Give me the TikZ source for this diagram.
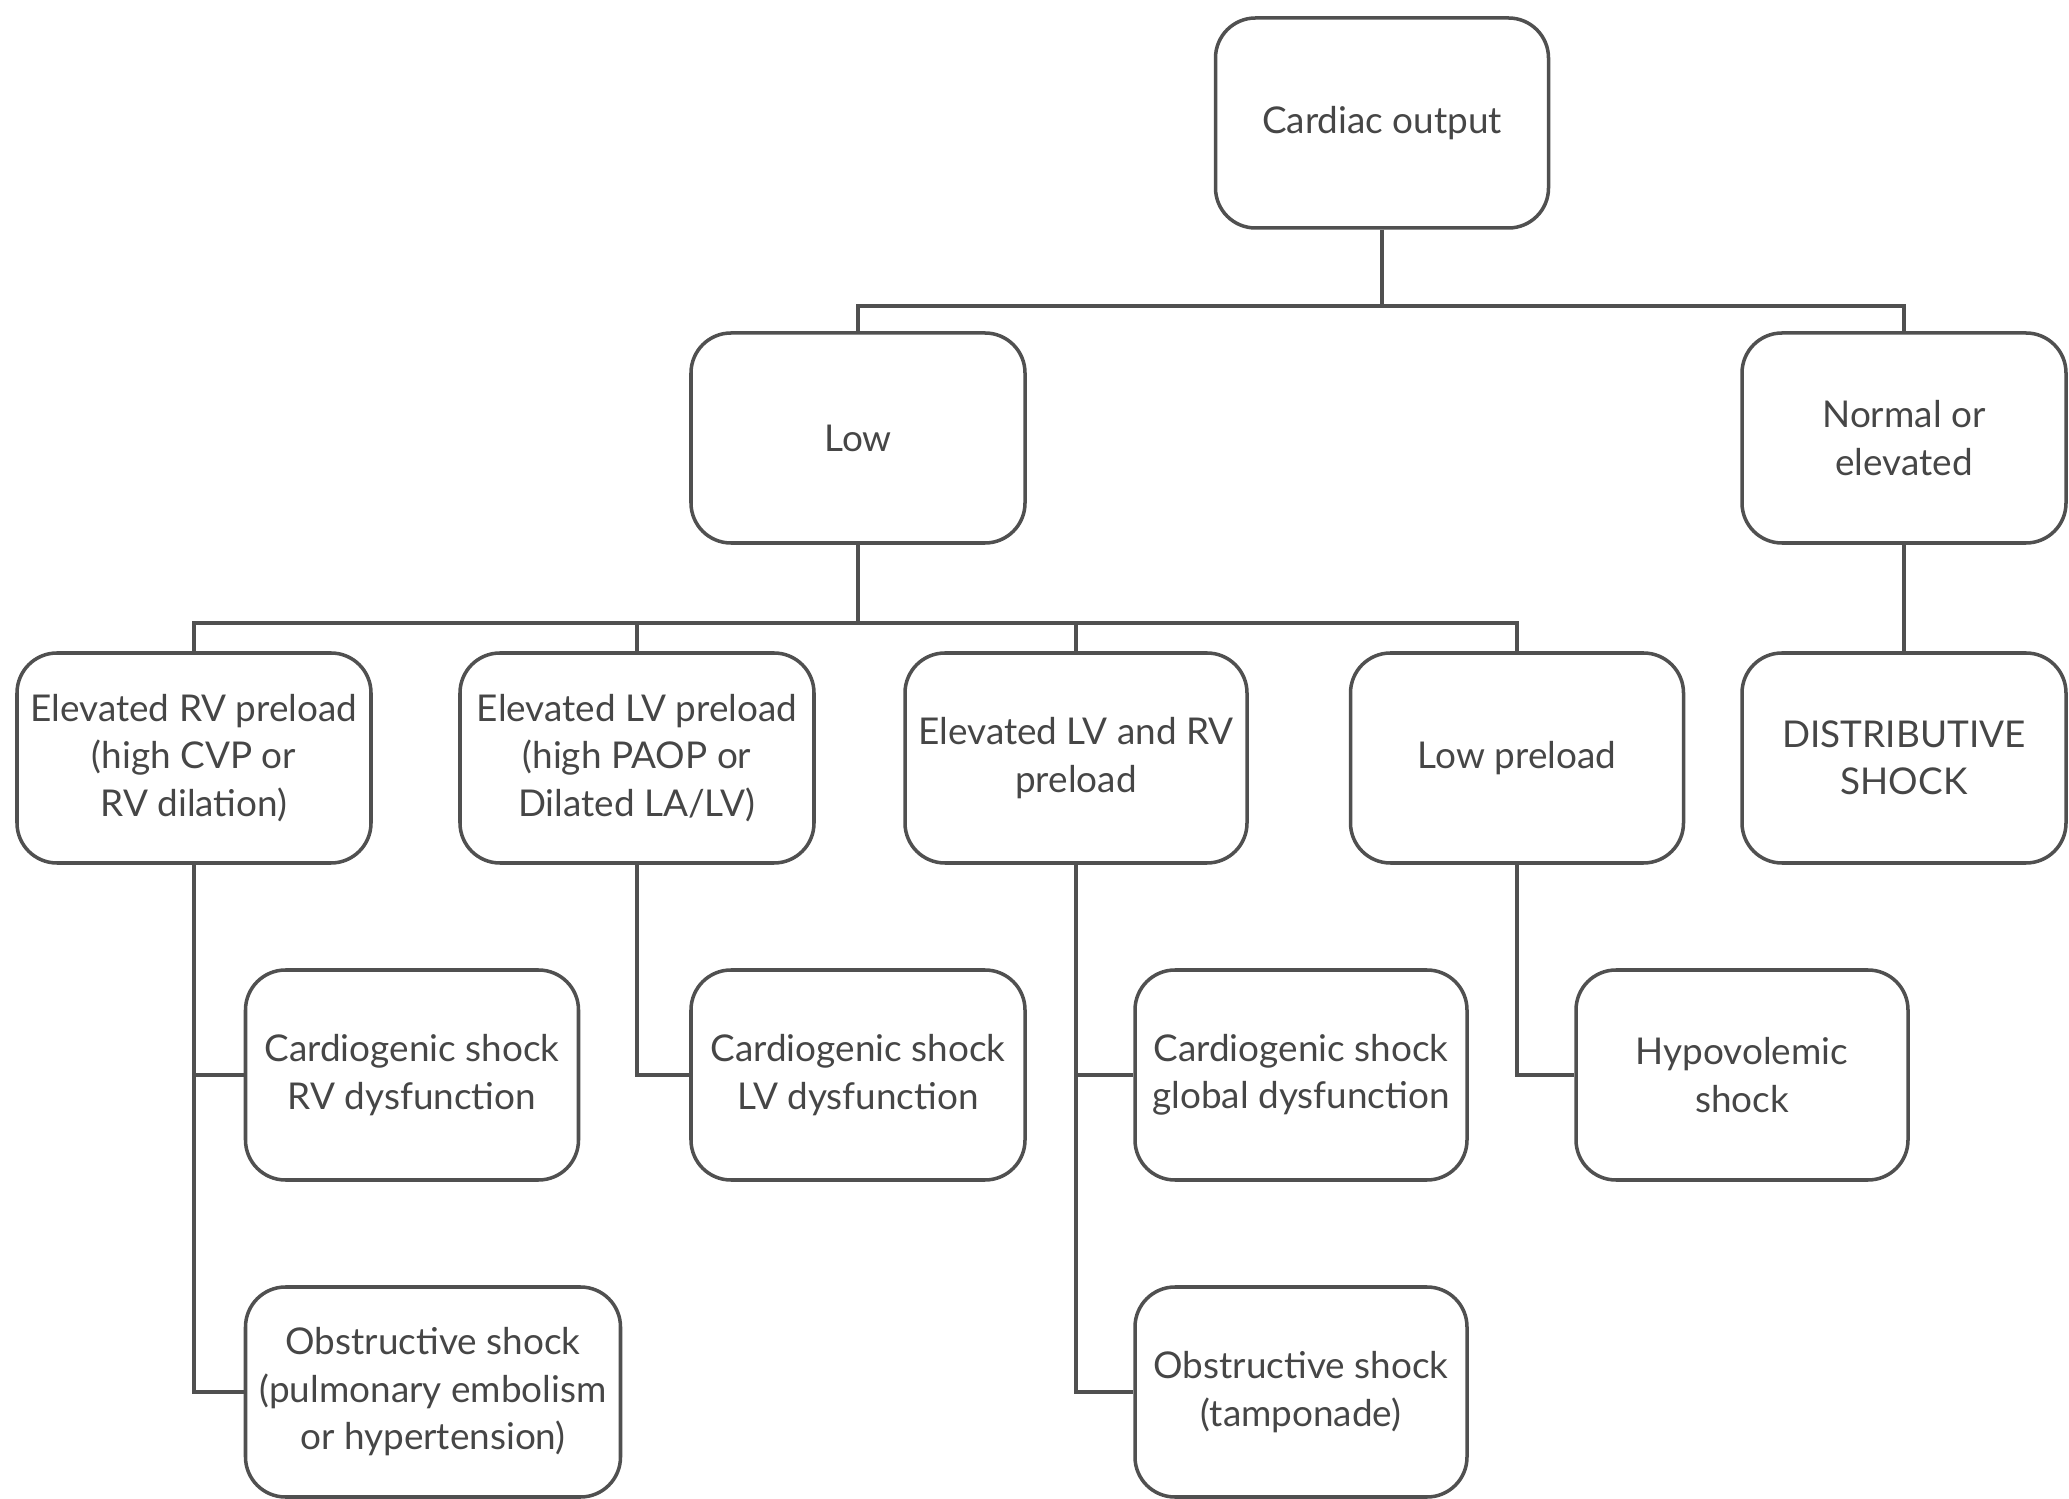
\documentclass[tikz,border=0pt]{standalone}
\usepackage{fontspec}
\setmainfont{Lato}
\usepackage{xcolor}
\usepackage{tikz}
\definecolor{shockgray}{RGB}{80, 80, 80}
\definecolor{shocktext}{RGB}{70, 70, 70}

\tikzset{
  shockbox/.style={draw=shockgray, line width=1pt, rounded corners=0.4cm,
    minimum height=2.1cm, align=center, text=shocktext,
    font=\fontsize{10.5}{13.5}\selectfont},
  shockline/.style={draw=shockgray, line width=1pt}
}

\begin{document}
\begin{tikzpicture}
                \useasboundingbox (0,0) rectangle (20.69,-14.99);

                % top levels
                \node[shockbox, minimum width=3.33cm] (co) at (13.82,-1.23) {Cardiac output};
                \node[shockbox, minimum width=3.34cm] (low) at (8.58,-4.38) {Low};
                \node[shockbox, minimum width=3.24cm] (norm) at (19.04,-4.38) {Normal or\\elevated};

                % preload row
                \node[shockbox, minimum width=3.54cm] (rvp) at (1.94,-7.58) {Elevated RV preload\\(high CVP or\\RV dilation)};
                \node[shockbox, minimum width=3.54cm] (lvp) at (6.37,-7.58) {Elevated LV preload\\(high PAOP or\\Dilated LA/LV)};
                \node[shockbox, minimum width=3.42cm] (lvrv) at (10.76,-7.58) {Elevated LV and RV\\preload};
                \node[shockbox, minimum width=3.33cm] (lowp) at (15.17,-7.58) {Low preload};
                \node[shockbox, minimum width=3.24cm] (dist) at (19.04,-7.58) {DISTRIBUTIVE\\SHOCK};

                % shock types
                \node[shockbox, minimum width=3.33cm] (cgrv) at (4.12,-10.75) {Cardiogenic shock\\RV dysfunction};
                \node[shockbox, minimum width=3.34cm] (cglv) at (8.58,-10.75) {Cardiogenic shock\\LV dysfunction};
                \node[shockbox, minimum width=3.32cm] (cggl) at (13.01,-10.75) {Cardiogenic shock\\global dysfunction};
                \node[shockbox, minimum width=3.32cm] (hypo) at (17.42,-10.75) {Hypovolemic\\shock};
                \node[shockbox, minimum width=3.75cm] (obpe) at (4.33,-13.92) {Obstructive shock\\(pulmonary embolism\\or hypertension)};
                \node[shockbox, minimum width=3.32cm] (obtp) at (13.01,-13.92) {Obstructive shock\\(tamponade)};

                % junctions
                \coordinate (j1) at (13.82,-3.06);
                \coordinate (j2) at (8.58,-6.23);

                \draw[shockline] (co.south) -- (j1);
                \draw[shockline] (low.north) |- (j1) -| (norm.north);
                \draw[shockline] (low.south) -- (j2);
                \draw[shockline] (rvp.north) |- (j2) -| (lowp.north);
                \draw[shockline] (lvp.north) -- (lvp.north |- j2);
                \draw[shockline] (lvrv.north) -- (lvrv.north |- j2);
                \draw[shockline] (norm.south) -- (dist.north);

                \draw[shockline] (rvp.south) |- (cgrv.west);
                \draw[shockline] (rvp.south) |- (obpe.west);
                \draw[shockline] (lvp.south) |- (cglv.west);
                \draw[shockline] (lvrv.south) |- (cggl.west);
                \draw[shockline] (lvrv.south) |- (obtp.west);
                \draw[shockline] (lowp.south) |- (hypo.west);
            \end{tikzpicture}
\end{document}
